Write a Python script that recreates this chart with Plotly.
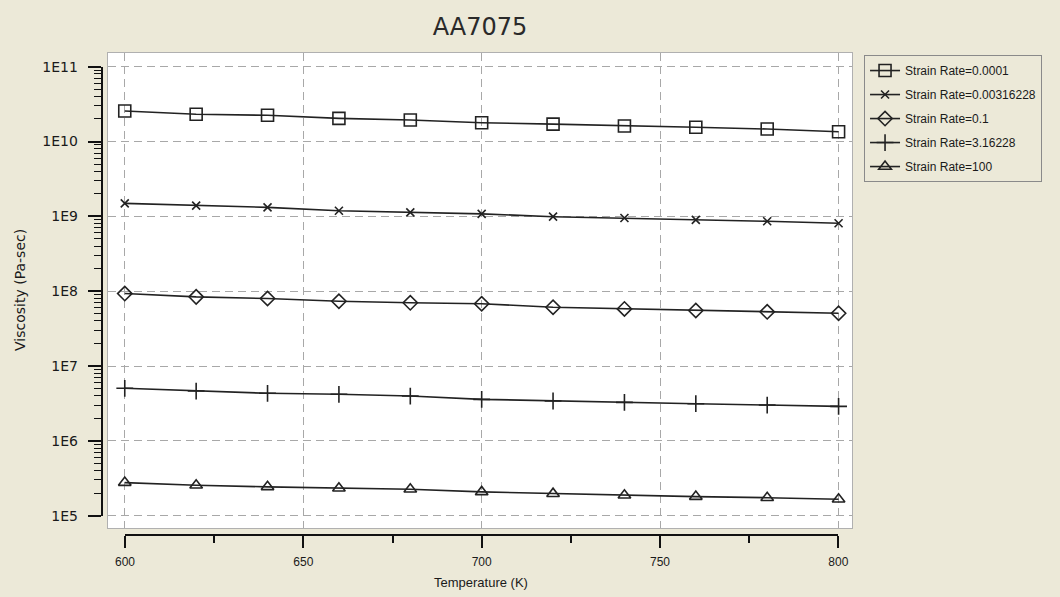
import plotly.graph_objects as go

temperature = [600, 620, 640, 660, 680, 700, 720, 740, 760, 780, 800]
rate_0_0001 = [2.56e10, 2.32e10, 2.24e10, 2.04e10, 1.94e10, 1.78e10, 1.71e10, 1.61e10, 1.55e10, 1.47e10, 1.35e10]
rate_0_00316 = [1.49e9, 1.39e9, 1.32e9, 1.19e9, 1.13e9, 1.08e9, 9.9e8, 9.5e8, 8.96e8, 8.6e8, 8.1e8]
rate_0_1 = [9.3e7, 8.4e7, 7.98e7, 7.35e7, 7.0e7, 6.8e7, 6.1e7, 5.8e7, 5.52e7, 5.3e7, 5.08e7]
rate_3_16 = [5.04e6, 4.63e6, 4.32e6, 4.19e6, 3.97e6, 3.59e6, 3.41e6, 3.27e6, 3.14e6, 3.01e6, 2.89e6]
rate_100 = [2.77e5, 2.55e5, 2.43e5, 2.33e5, 2.26e5, 2.08e5, 1.97e5, 1.88e5, 1.80e5, 1.74e5, 1.66e5]

series_names = ["Strain Rate=0.0001", "Strain Rate=0.00316228", "Strain Rate=0.1",
                "Strain Rate=3.16228", "Strain Rate=100"]
series_values = [rate_0_0001, rate_0_00316, rate_0_1, rate_3_16, rate_100]
symbols = ["square-open", "x-thin-open", "diamond-open", "cross-thin-open", "triangle-up-open"]
sizes = [12, 8, 11, 12, 11]

y_tickvals = [1e5, 1e6, 1e7, 1e8, 1e9, 1e10, 1e11]
y_ticktext = ["1E5", "1E6", "1E7", "1E8", "1E9", "1E10", "1E11"]
y_minor = [m * 10 ** k for k in range(5, 11) for m in range(2, 10)]
x_tickvals = [600, 650, 700, 750, 800]
x_minor = [625, 675, 725, 775]

BG = "#ECE9D8"
GRID = "#A8A8A8"
INK = "#1a1a1a"

fig = go.Figure()
for name, vals, sym, sz in zip(series_names, series_values, symbols, sizes):
    fig.add_trace(go.Scatter(
        x=temperature, y=vals, name=name, mode="lines+markers",
        line=dict(color="#222222", width=1.6),
        marker=dict(symbol=sym, size=sz, color="#222222", line=dict(width=1.6, color="#222222")),
        legendgroup=name,
    ))

# helper trace so that the detached axes are drawn
fig.add_trace(go.Scatter(x=[700], y=[1e8], xaxis="x2", yaxis="y2", mode="markers",
                         marker=dict(opacity=0), showlegend=False, hoverinfo="skip"))

fig.update_layout(
    width=1060, height=597,
    margin=dict(l=60, r=208, t=53, b=30),
    paper_bgcolor=BG,
    plot_bgcolor="rgba(0,0,0,0)",
    font=dict(family="Arial, Liberation Sans, sans-serif", color=INK, size=12),
    title=dict(text="AA7075", x=0.4528, xanchor="center", y=0.955, yanchor="middle",
               font=dict(family="DejaVu Sans", size=24, color="#2a2a2a")),
    showlegend=True,
    legend=dict(x=1.0152, y=0.996, xanchor="left", yanchor="top",
                bgcolor=BG, bordercolor="#8a8a8a", borderwidth=1,
                font=dict(size=12, color=INK), tracegroupgap=5,
                itemwidth=30),
    xaxis=dict(domain=[0.0606, 1], range=[595.3, 803.76], tickvals=x_tickvals,
               showticklabels=False, ticks="", showgrid=True, gridcolor=GRID,
               griddash="8px,5px", gridwidth=1, zeroline=False,
               showline=True, linecolor="#B0B0B0", linewidth=1, mirror=True),
    yaxis=dict(domain=[0.0759, 1], type="log", range=[4.836, 11.183], tickvals=y_tickvals,
               showticklabels=False, ticks="", showgrid=True, gridcolor=GRID,
               griddash="8px,5px", gridwidth=1, zeroline=False,
               showline=True, linecolor="#B0B0B0", linewidth=1, mirror=True),
    xaxis2=dict(domain=[0.0821, 0.9827], range=[600, 800], anchor="free", position=0.0623,
                tickvals=x_tickvals, showgrid=False, zeroline=False,
                showline=True, linecolor="#111111", linewidth=2,
                ticks="outside", ticklen=12, tickwidth=2, tickcolor="#111111",
                ticklabelstandoff=4, tickfont=dict(size=12, color=INK),
                minor=dict(ticks="outside", ticklen=7, tickwidth=2, tickcolor="#111111",
                           tickvals=x_minor, showgrid=False)),
    yaxis2=dict(domain=[0.0998, 0.9734], type="log", range=[5, 11], anchor="free", position=0.0527,
                tickvals=y_tickvals, ticktext=y_ticktext, showgrid=False, zeroline=False,
                showline=True, linecolor="#111111", linewidth=2,
                ticks="outside", ticklen=13, tickwidth=2, tickcolor="#111111",
                ticklabelstandoff=7, tickfont=dict(family="DejaVu Sans", size=14, color=INK),
                minor=dict(ticks="outside", ticklen=7, tickwidth=1, tickcolor="#111111",
                           tickvals=y_minor, showgrid=False)),
    shapes=[dict(type="rect", xref="x domain", yref="y domain", x0=0, x1=1, y0=0, y1=1,
                 fillcolor="white", line=dict(width=0), layer="below")],
    annotations=[
        dict(text="Viscosity (Pa-sec)", xref="paper", yref="paper", x=-0.0499, y=0.54,
             xanchor="center", yanchor="middle", textangle=-90, showarrow=False,
             font=dict(family="DejaVu Sans", size=14, color=INK)),
        dict(text="Temperature (K)", xref="paper", yref="paper", x=0.5316, y=-0.031,
             xanchor="center", yanchor="middle", showarrow=False,
             font=dict(size=13, color=INK)),
    ],
)

fig.write_html("out.html")
